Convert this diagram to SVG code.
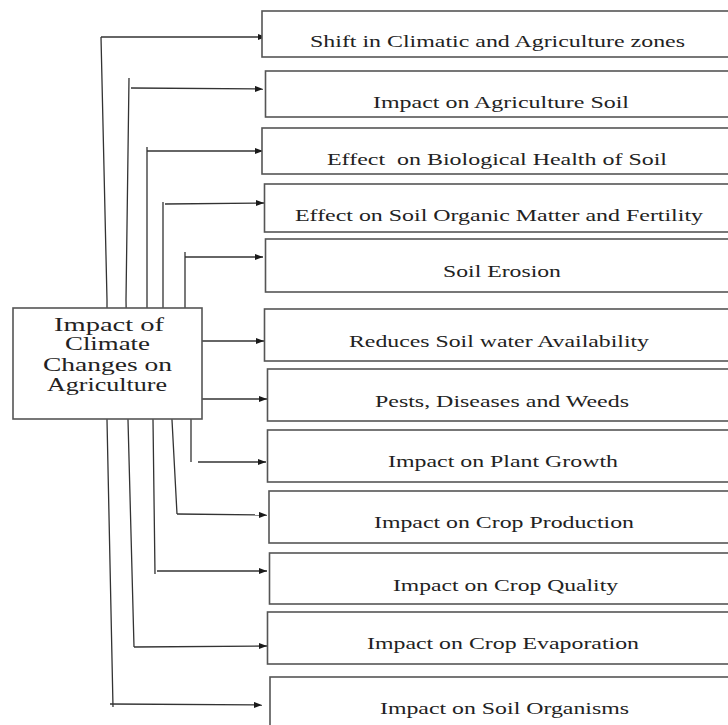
<svg xmlns="http://www.w3.org/2000/svg" width="728" height="725" viewBox="0 0 728 725">
<defs>
<marker id="arr" markerUnits="userSpaceOnUse" markerWidth="9" markerHeight="7" refX="8" refY="3" orient="auto">
<path d="M0,0 L8,3 L0,6 z" fill="#1a1a1a"/>
</marker>
<style>
.c{fill:none;stroke:#333;stroke-width:1.3}
.a{marker-end:url(#arr)}
.b{fill:#fff;stroke:#555;stroke-width:1.6}
.t{font-family:'Liberation Serif','DejaVu Serif','Times New Roman',serif;font-size:17.5px;fill:#222}
.m{font-family:'Liberation Serif','DejaVu Serif','Times New Roman',serif;font-size:19px;fill:#222}
</style>
</defs>
<rect width="728" height="725" fill="#fff"/>
<g id="connectors">
<path class="c" d="M101,37 L107,300 L107,420 L113,707"/>
<path class="c" d="M129,78 L126,300 L128,420 L134,647"/>
<path class="c" d="M147,147 L147,308 L153,420 L155,574"/>
<path class="c" d="M163,202 L163,308 L172,420 L177,514"/>
<path class="c" d="M185,252 L185,308 L191,420 L191,462"/>
<path class="c a" d="M101,37 L266,37"/>
<path class="c a" d="M131,88 L263,89"/>
<path class="c a" d="M147,151 L263,151"/>
<path class="c a" d="M165,204 L264,203"/>
<path class="c a" d="M185,257 L263,257"/>
<path class="c a" d="M202,341 L264,341"/>
<path class="c a" d="M198,399 L267,399"/>
<path class="c a" d="M198,462 L266,462"/>
<path class="c a" d="M177,514 L267,515"/>
<path class="c a" d="M157,571 L267,571"/>
<path class="c a" d="M134,647 L267,646"/>
<path class="c a" d="M110,704 L262,705"/>
</g>
<g id="center">
<rect class="b" x="13" y="308" width="189" height="111"/>
<text class="m" font-family="Liberation Serif, serif" x="54" y="331" textLength="110" lengthAdjust="spacingAndGlyphs">Impact of</text>
<text class="m" font-family="Liberation Serif, serif" x="65" y="350" textLength="85" lengthAdjust="spacingAndGlyphs">Climate</text>
<text class="m" font-family="Liberation Serif, serif" x="43" y="371" textLength="129" lengthAdjust="spacingAndGlyphs">Changes on</text>
<text class="m" font-family="Liberation Serif, serif" x="47" y="391" textLength="120" lengthAdjust="spacingAndGlyphs">Agriculture</text>
</g>
<g id="n1"><rect class="b" x="262" y="11" width="480" height="46"/><text class="t" x="310" y="47" textLength="375" lengthAdjust="spacingAndGlyphs">Shift in Climatic and Agriculture zones</text></g>
<g id="n2"><rect class="b" x="265.5" y="71" width="480" height="46"/><text class="t" x="373" y="108" textLength="256" lengthAdjust="spacingAndGlyphs">Impact on Agriculture Soil</text></g>
<g id="n3"><rect class="b" x="262" y="128" width="480" height="46"/><text class="t" x="327" y="165" textLength="340" lengthAdjust="spacingAndGlyphs" xml:space="preserve">Effect  on Biological Health of Soil</text></g>
<g id="n4"><rect class="b" x="264.5" y="184" width="480" height="48"/><text class="t" x="295" y="221" textLength="408" lengthAdjust="spacingAndGlyphs">Effect on Soil Organic Matter and Fertility</text></g>
<g id="n5"><rect class="b" x="265.5" y="239" width="480" height="53"/><text class="t" x="443" y="277" textLength="118" lengthAdjust="spacingAndGlyphs">Soil Erosion</text></g>
<g id="n6"><rect class="b" x="264.5" y="309" width="480" height="52"/><text class="t" x="349" y="347" textLength="300" lengthAdjust="spacingAndGlyphs">Reduces Soil water Availability</text></g>
<g id="n7"><rect class="b" x="267.5" y="369" width="480" height="52"/><text class="t" x="375" y="407" textLength="254" lengthAdjust="spacingAndGlyphs">Pests, Diseases and Weeds</text></g>
<g id="n8"><rect class="b" x="267.5" y="430" width="480" height="52"/><text class="t" x="388" y="467" textLength="230" lengthAdjust="spacingAndGlyphs">Impact on Plant Growth</text></g>
<g id="n9"><rect class="b" x="269" y="491" width="480" height="52"/><text class="t" x="374" y="528" textLength="260" lengthAdjust="spacingAndGlyphs">Impact on Crop Production</text></g>
<g id="n10"><rect class="b" x="269.5" y="553" width="480" height="51"/><text class="t" x="393" y="591" textLength="225" lengthAdjust="spacingAndGlyphs">Impact on Crop Quality</text></g>
<g id="n11"><rect class="b" x="267.5" y="612" width="480" height="52"/><text class="t" x="367" y="649" textLength="272" lengthAdjust="spacingAndGlyphs">Impact on Crop Evaporation</text></g>
<g id="n12"><rect class="b" x="270" y="677" width="480" height="60"/><text class="t" x="380" y="714" textLength="249" lengthAdjust="spacingAndGlyphs">Impact on Soil Organisms</text></g>
</svg>
